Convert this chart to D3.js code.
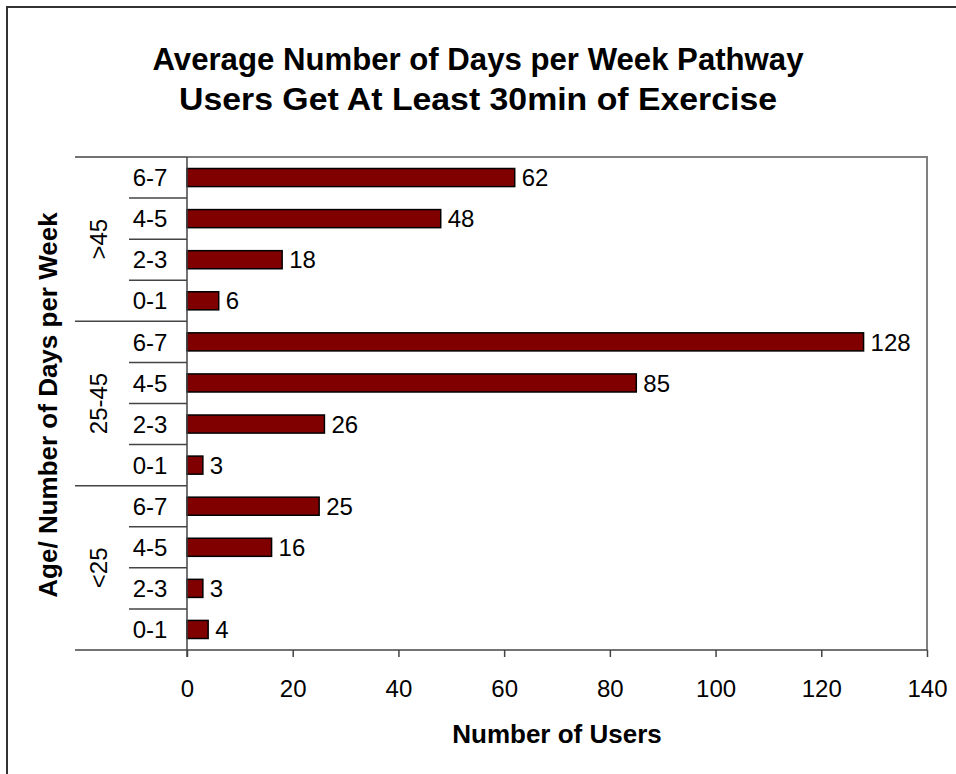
<!DOCTYPE html>
<html><head><meta charset="utf-8">
<script src="https://cdn.jsdelivr.net/npm/d3@7"></script>
<style>body{margin:0;background:#fff;} text{font-family:"Liberation Sans",Arial,sans-serif;}</style>
</head><body>
<svg id="c" width="956" height="774"></svg>
<script>
const groups = ["<25", "25-45", ">45"];
const days = ["0-1", "2-3", "4-5", "6-7"];
const values = {
  "<25": [4, 3, 16, 25],
  "25-45": [3, 26, 85, 128],
  ">45": [6, 18, 48, 62]
};
const xTicks = [0, 20, 40, 60, 80, 100, 120, 140];
const title = ["Average Number of Days per Week Pathway", "Users Get At Least 30min of Exercise"];

const rows = [];
groups.forEach(g => days.forEach((d, i) => rows.push({g, d, v: values[g][i], key: g + "|" + d})));
const rowsTopDown = rows.slice().reverse();

const FS = 24;
const svg = d3.select("#c");
svg.append("rect").attr("x", 7).attr("y", 7).attr("width", 960).attr("height", 800)
  .attr("fill", "#fff").attr("stroke", "#333").attr("stroke-width", 2);

const L = 187, R = 927, T = 157, B = 650;
const x = d3.scaleLinear().domain([0, 140]).range([L, R]);
const y = d3.scaleBand().domain(rowsTopDown.map(r => r.key)).range([T, B]).paddingInner(0.56).paddingOuter(0.28);
const step = y.step();

// plot area border top/right
svg.append("path").attr("d", `M${L},${T}H${R}V${B}`).attr("fill", "none").attr("stroke", "#808080").attr("stroke-width", 2);

// title
const tl = [651, 598];
svg.append("g").selectAll("text").data(title).join("text")
  .attr("x", 478).attr("y", (d, i) => 70 + i * 40).attr("text-anchor", "middle")
  .attr("font-size", 32).attr("font-weight", "bold")
  .attr("textLength", (d, i) => tl[i]).attr("lengthAdjust", "spacingAndGlyphs")
  .text(d => d);

// bars
svg.selectAll("rect.bar").data(rows).join("rect").attr("class", "bar")
  .attr("x", x(0)).attr("y", d => y(d.key)).attr("width", d => x(d.v) - x(0)).attr("height", y.bandwidth())
  .attr("fill", "#800000").attr("stroke", "#000").attr("stroke-width", 1.5);

svg.selectAll("text.val").data(rows).join("text").attr("class", "val")
  .attr("x", d => x(d.v) + 7).attr("y", d => y(d.key) + y.bandwidth() / 2).attr("dy", "0.36em")
  .attr("font-size", FS).text(d => d.v);

// x axis
const xa = svg.append("g").attr("transform", `translate(0,${B})`)
  .call(d3.axisBottom(x).tickValues(xTicks).tickSize(7).tickPadding(23).tickSizeOuter(0));
xa.select(".domain").remove();
xa.selectAll("line").attr("stroke", "#444").attr("stroke-width", 1.5);
xa.selectAll("text").attr("font-size", FS).attr("fill", "#000").attr("font-family", "Liberation Sans, Arial, sans-serif");
svg.append("line").attr("x1", 75).attr("x2", R).attr("y1", B).attr("y2", B).attr("stroke", "#444").attr("stroke-width", 1.5);

// y axis line
svg.append("line").attr("x1", L).attr("x2", L).attr("y1", T).attr("y2", B + 7).attr("stroke", "#444").attr("stroke-width", 1.5);

// category labels and separators
svg.selectAll("text.cat").data(rowsTopDown).join("text").attr("class", "cat")
  .attr("x", 150).attr("y", d => y(d.key) + y.bandwidth() / 2).attr("dy", "0.36em")
  .attr("text-anchor", "middle").attr("font-size", FS).text(d => d.d);

rowsTopDown.forEach((r, i) => {
  const yy = y(r.key) - y.paddingOuter() * step;
  const isGroupStart = days.indexOf(r.d) === days.length - 1;
  svg.append("line").attr("x1", isGroupStart ? 75 : 129).attr("x2", L).attr("y1", yy).attr("y2", yy)
    .attr("stroke", "#444").attr("stroke-width", 1.5);
});

// group labels
groups.forEach(g => {
  const ks = rows.filter(r => r.g === g).map(r => y(r.key));
  const cy = (d3.min(ks) + d3.max(ks) + y.bandwidth()) / 2;
  svg.append("text").attr("transform", `translate(98,${cy}) rotate(-90)`).attr("dy", "0.36em")
    .attr("text-anchor", "middle").attr("font-size", FS).text(g);
});

// axis titles
svg.append("text").attr("x", 557).attr("y", 743).attr("text-anchor", "middle")
  .attr("font-size", 26).attr("font-weight", "bold").text("Number of Users");
svg.append("text").attr("transform", `translate(57,405) rotate(-90)`).attr("text-anchor", "middle")
  .attr("font-size", 26).attr("font-weight", "bold").text("Age/ Number of Days per Week");
</script>
</body></html>
